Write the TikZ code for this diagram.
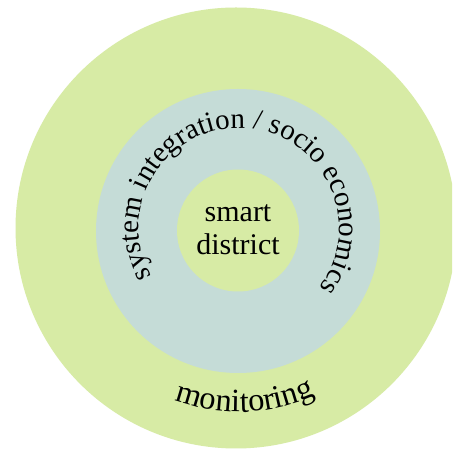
\documentclass[tikz,border=0pt]{standalone}
\usepackage{fontspec}
\setmainfont{Liberation Serif}
\usetikzlibrary{decorations.text}
\definecolor{ringgreen}{RGB}{215,235,165}
\definecolor{ringblue}{RGB}{197,220,215}
\newfontfamily\ringfont{Liberation Serif}
\newcommand{\midsize}{\fontsize{29}{33}\selectfont}
\newcommand{\monsize}{\fontsize{32.5}{36}\selectfont}
\tikzset{
  ring/.style={circle, inner sep=0pt, outer sep=0pt, draw=none},
  centertext/.style={font=\fontsize{30}{33}\selectfont, inner sep=0pt, anchor=base, text=black}
}
\begin{document}
\begin{tikzpicture}[x=1pt,y=1pt]
\useasboundingbox (0,0) rectangle (452,454);
\clip (0,0) rectangle (452,454);
\fill[white] (0,0) rectangle (452,454);
\node[ring, fill=ringgreen, minimum size=441pt] (outer) at (236,226) {};
\node[ring, fill=ringblue, minimum size=284pt] (middle) at (238,223) {};
\node[ring, fill=ringgreen, minimum size=122pt] (inner) at (238,223.5) {};
\node[centertext] (smart) at (238,232) {smart};
\node[centertext] (district) at (238,199) {district};
\coordinate (tc) at (239,226);
\path[decorate, decoration={text along path, text align=center,
  text={|\midsize|system integration / socio economics}}]
  (tc) ++(216:100) arc[start angle=216, end angle=-44, radius=100];
\path[decorate, decoration={text along path, text align=center,
  text={|\monsize|monitoring}}]
  (tc) ++(222:184) arc[start angle=222, end angle=322, radius=184];
\end{tikzpicture}
\end{document}
